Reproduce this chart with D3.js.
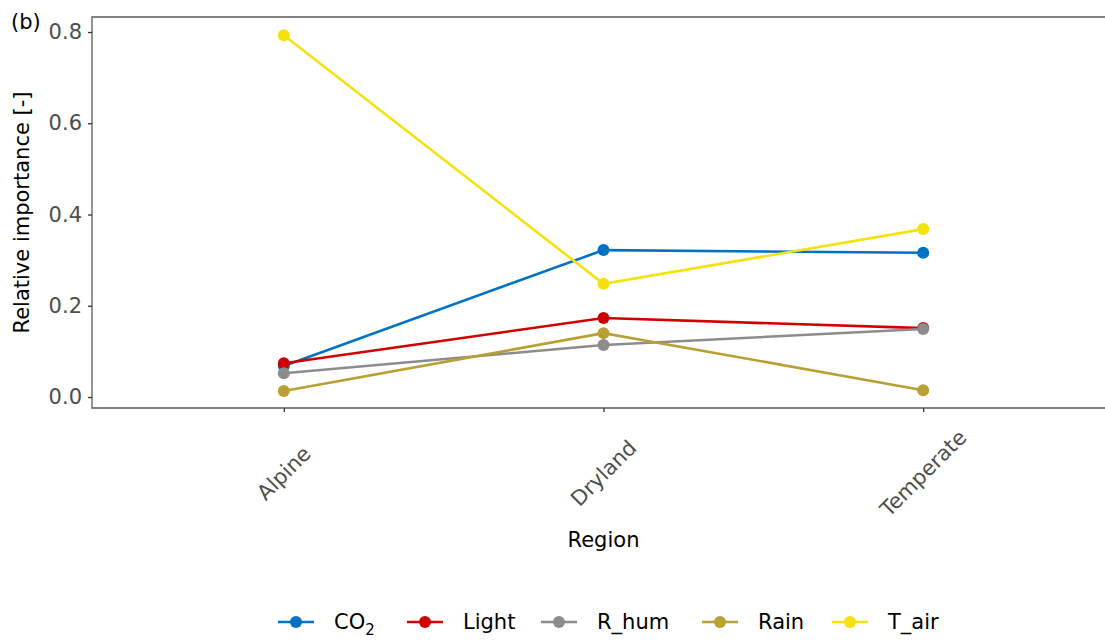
<!DOCTYPE html>
<html>
<head>
<meta charset="utf-8">
<script src="https://cdn.jsdelivr.net/npm/d3@7"></script>
<style>
  body { margin: 0; background: #fff; }
  text { font-family: "DejaVu Sans", sans-serif; }
</style>
</head>
<body>
<div id="chart"></div>
<script>
// data
var regions = ["Alpine", "Dryland", "Temperate"];
var seriesNames = ["CO2", "Light", "R_hum", "Rain", "T_air"];
var co2 = [0.068, 0.322, 0.316];
var light = [0.074, 0.173, 0.151];
var rhum = [0.052, 0.114, 0.149];
var rain = [0.013, 0.140, 0.015];
var tair = [0.793, 0.248, 0.368];
var yTicks = [0.0, 0.2, 0.4, 0.6, 0.8];
var colors = ["#0072C3", "#D10000", "#8C8C8C", "#B8A035", "#F5E10E"];

var width = 1105, height = 640;
var panel = { left: 92, top: 17, right: 1115, bottom: 408 };
var fs = "21px";

var svg = d3.select("#chart").append("svg")
  .attr("width", width).attr("height", height);

var x = d3.scalePoint().domain(regions)
  .range([panel.left, panel.right]).padding(0.6);
var y = d3.scaleLinear().domain([0, 0.8]).range([397, 32]);

var series = [co2, light, rhum, rain, tair].map(function (vals, i) {
  return {
    name: seriesNames[i],
    color: colors[i],
    values: vals.map(function (v, j) { return { region: regions[j], value: v }; })
  };
});

// panel border (right side runs off the picture)
svg.append("path")
  .attr("d", "M" + panel.right + "," + panel.top + "H" + panel.left + "V" + panel.bottom + "H" + panel.right)
  .attr("fill", "none").attr("stroke", "#5a5a5a").attr("stroke-width", 1.3);

// y axis
var yAxis = svg.append("g")
  .attr("transform", "translate(" + panel.left + ",0)")
  .call(d3.axisLeft(y).tickValues(yTicks).tickFormat(d3.format(".1f")).tickSize(4).tickPadding(6));
yAxis.select(".domain").remove();
yAxis.selectAll(".tick line").attr("stroke", "#333").attr("stroke-width", 1.3);
yAxis.selectAll(".tick text").attr("fill", "#4d4d4d")
  .style("font-size", fs).style("font-family", "DejaVu Sans");

// x axis
var xAxis = svg.append("g")
  .attr("transform", "translate(0," + panel.bottom + ")")
  .call(d3.axisBottom(x).tickSize(4).tickFormat(""));
xAxis.select(".domain").remove();
xAxis.selectAll(".tick line").attr("stroke", "#333").attr("stroke-width", 1.3);

svg.append("g").selectAll("text").data(regions).enter().append("text")
  .attr("transform", function (d) { return "translate(" + x(d) + ",473)rotate(-45)"; })
  .attr("text-anchor", "middle")
  .attr("dy", "0.35em")
  .attr("fill", "#4d4d4d")
  .style("font-size", fs)
  .text(function (d) { return d; });

// axis titles
svg.append("text")
  .attr("transform", "translate(29," + ((panel.top + panel.bottom) / 2) + ")rotate(-90)")
  .attr("text-anchor", "middle")
  .style("font-size", fs)
  .text("Relative importance [-]");

svg.append("text")
  .attr("x", x("Dryland")).attr("y", 547)
  .attr("text-anchor", "middle")
  .style("font-size", fs)
  .text("Region");

svg.append("text")
  .attr("x", 11).attr("y", 29)
  .style("font-size", fs)
  .text("(b)");

// lines then points
var line = d3.line()
  .x(function (d) { return x(d.region); })
  .y(function (d) { return y(d.value); });

svg.append("g").selectAll("path").data(series).enter().append("path")
  .attr("d", function (d) { return line(d.values); })
  .attr("fill", "none")
  .attr("stroke", function (d) { return d.color; })
  .attr("stroke-width", 2.6);

svg.append("g").selectAll("g").data(series).enter().append("g")
  .attr("fill", function (d) { return d.color; })
  .selectAll("circle").data(function (d) { return d.values; }).enter().append("circle")
  .attr("cx", function (d) { return x(d.region); })
  .attr("cy", function (d) { return y(d.value); })
  .attr("r", 6);

// legend
var legendX = [278, 407, 541, 702, 832];
var legend = svg.append("g").selectAll("g").data(series).enter().append("g")
  .attr("transform", function (d, i) { return "translate(" + legendX[i] + ",622)"; });
legend.append("line")
  .attr("x1", 0).attr("x2", 36)
  .attr("stroke", function (d) { return d.color; })
  .attr("stroke-width", 2.6);
legend.append("circle")
  .attr("cx", 18).attr("r", 6)
  .attr("fill", function (d) { return d.color; });
var lt = legend.append("text")
  .attr("x", 56).attr("dy", "0.35em")
  .style("font-size", fs);
lt.each(function (d) {
  var t = d3.select(this);
  if (d.name === "CO2") {
    t.append("tspan").text("CO");
    t.append("tspan").attr("dy", 6).style("font-size", "15px").text("2");
  } else {
    t.text(d.name);
  }
});
</script>
</body>
</html>
